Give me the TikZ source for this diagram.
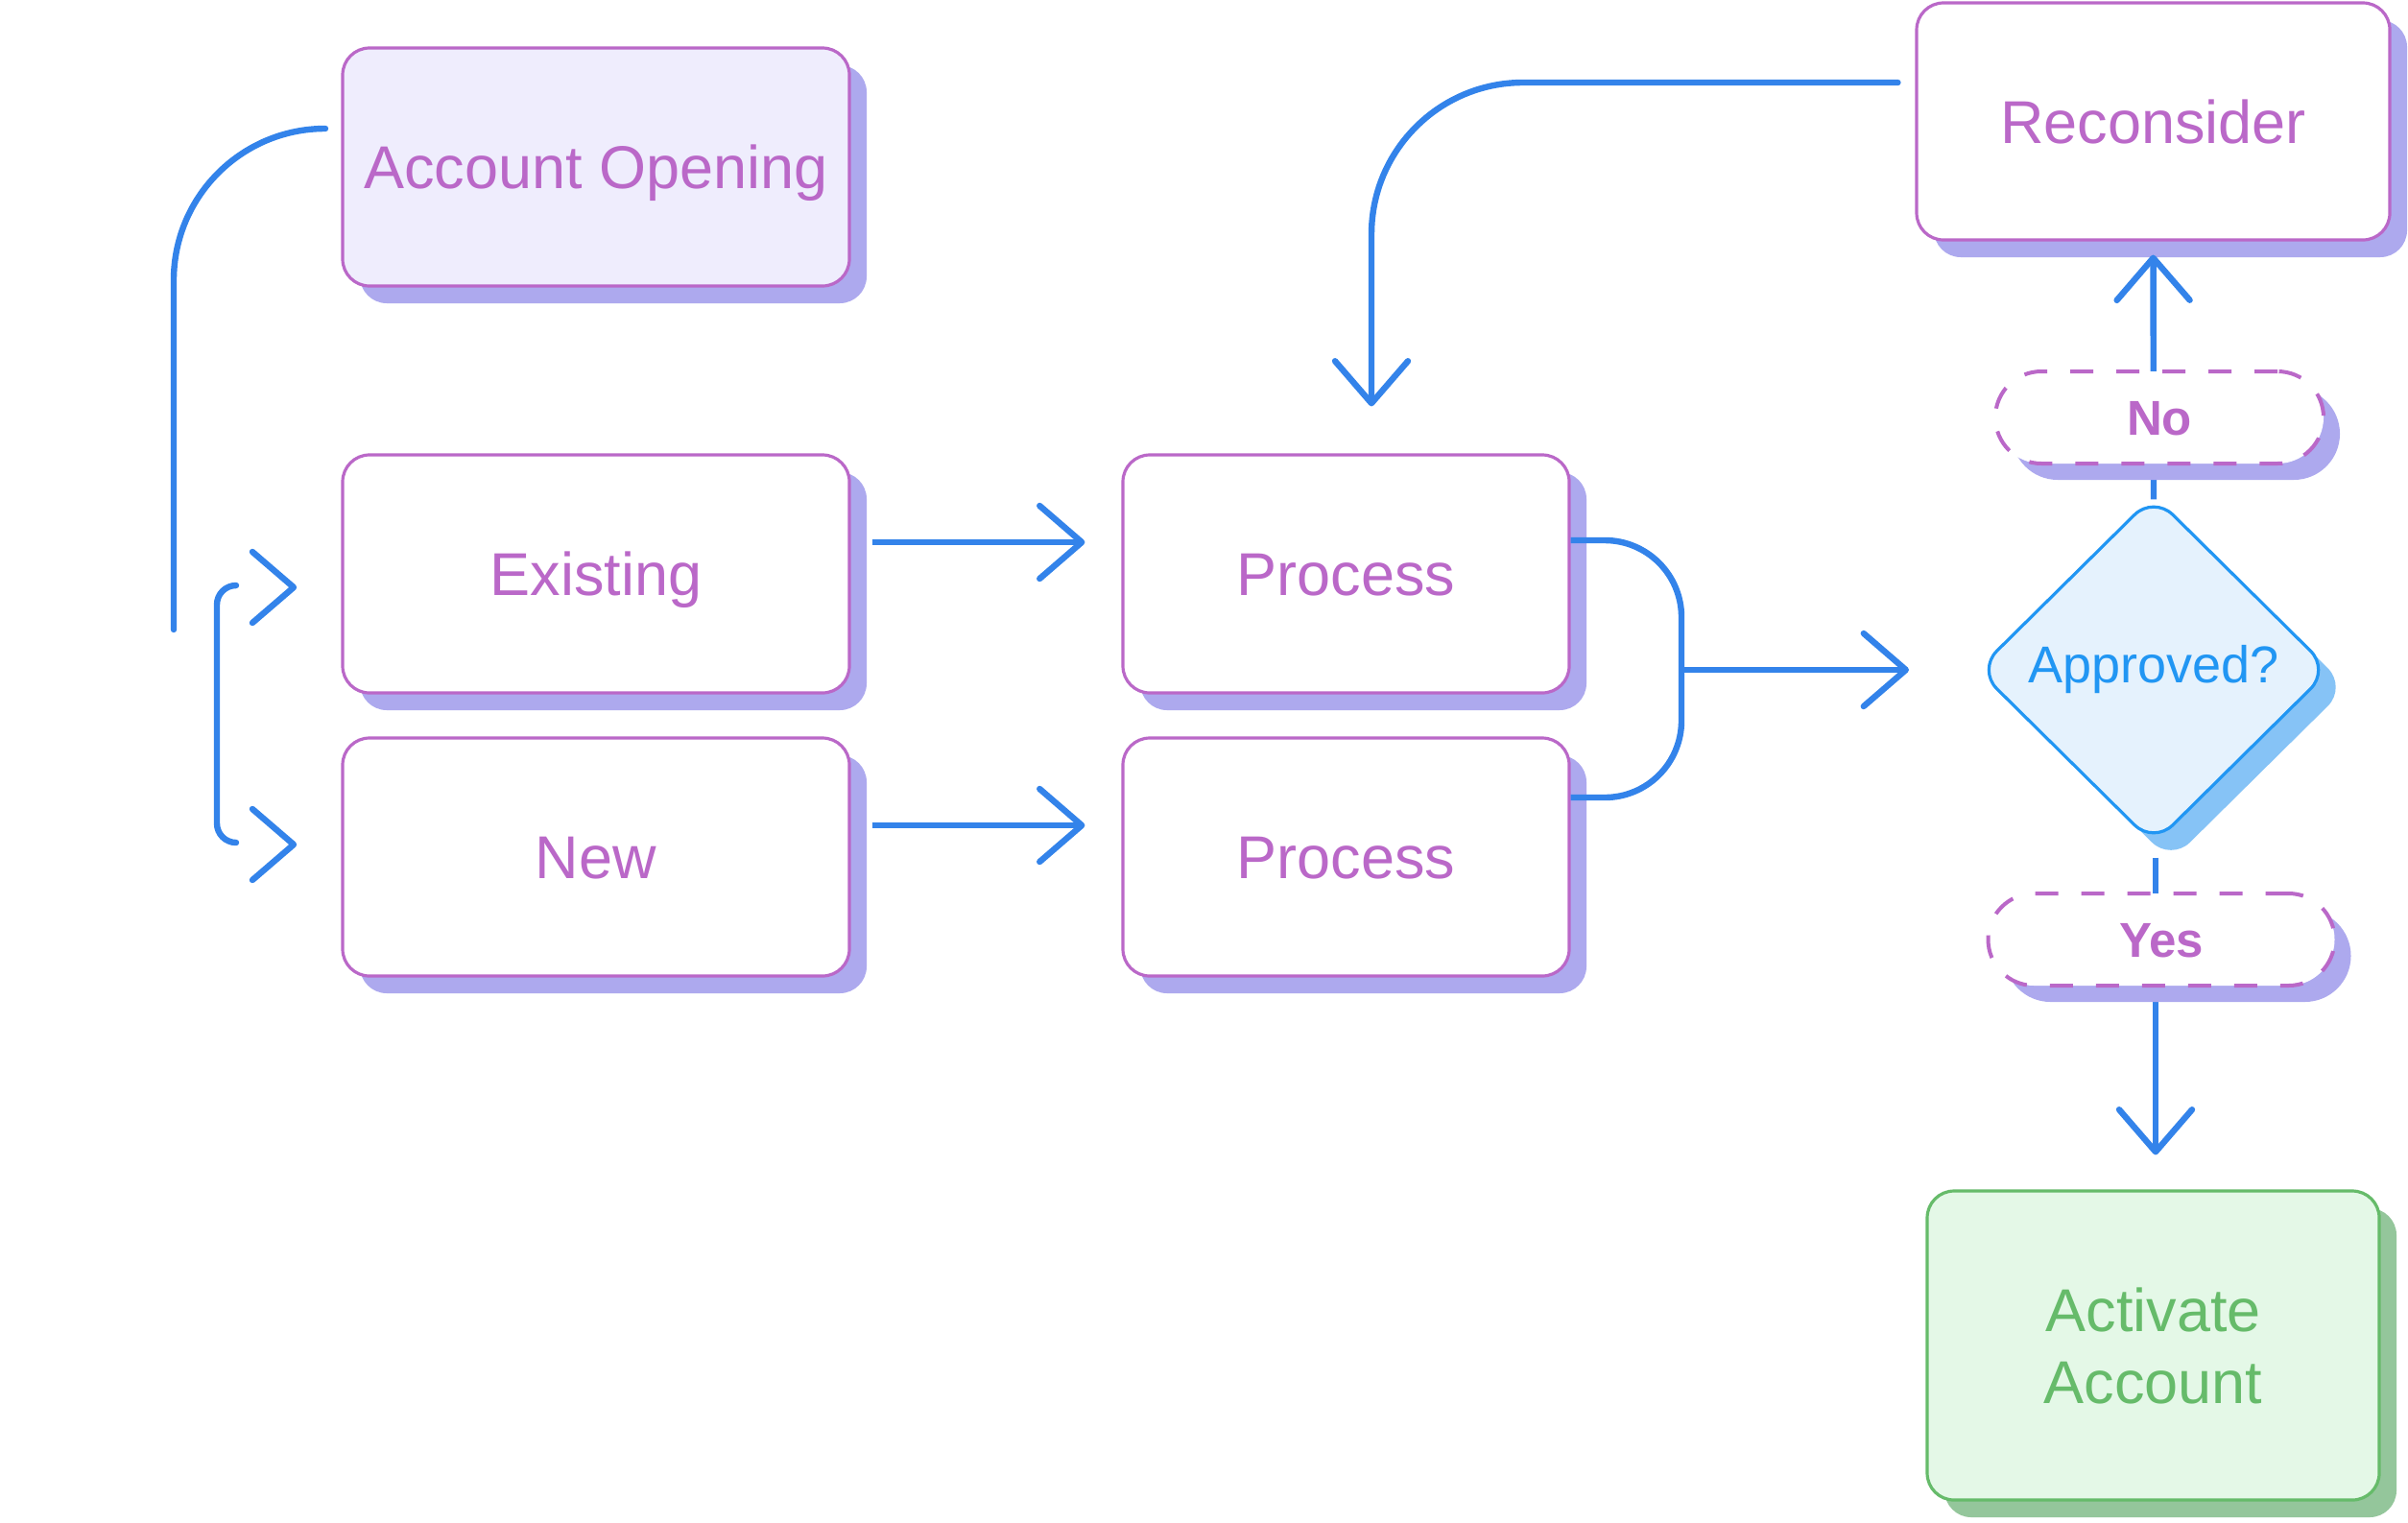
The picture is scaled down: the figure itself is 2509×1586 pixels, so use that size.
\documentclass[tikz,border=0pt]{standalone}
\usepackage{fontspec}
\setmainfont{Liberation Sans}
\usetikzlibrary{arrows.meta,shapes.geometric,shadows,calc}
\definecolor{purp}{HTML}{BA68C8}
\definecolor{lav}{HTML}{ADA9EE}
\definecolor{aofill}{HTML}{EFEDFD}
\definecolor{connblue}{HTML}{3383EA}
\definecolor{diaedge}{HTML}{2196F3}
\definecolor{diafill}{HTML}{E5F2FD}
\definecolor{diashadow}{HTML}{86C3F6}
\definecolor{grn}{HTML}{66BB6A}
\definecolor{grnfill}{HTML}{E4F8E7}
\definecolor{grnshadow}{HTML}{94C69B}
\begin{document}
\begin{tikzpicture}[x=0.5pt,y=-0.5pt,
  card/.style={rectangle, rounded corners=14pt, draw=purp, line width=1.6pt,
    fill=white, text=purp, font=\fontsize{31.5}{38}\selectfont, inner sep=0pt,
    text height=22.6pt, text depth=0pt,
    drop shadow={shadow xshift=9pt, shadow yshift=-9pt, fill=lav, opacity=1}},
  wide/.style={minimum width=264pt, minimum height=124pt},
  proc/.style={minimum width=232.5pt, minimum height=124pt},
  tag/.style={rectangle, rounded corners=24pt, draw=purp, line width=2pt,
    dash pattern=on 12pt off 12pt, fill=white, text=purp,
    font=\bfseries\fontsize{25.5}{30}\selectfont, minimum height=48pt, inner sep=0pt,
    text height=18pt, text depth=0pt,
    drop shadow={shadow xshift=8.5pt, shadow yshift=-8.5pt, fill=lav, opacity=1}},
  decide/.style={diamond, rounded corners=14pt, draw=diaedge, fill=diafill,
    line width=1.6pt, text=diaedge, font=\fontsize{27}{32}\selectfont,
    minimum width=184pt, minimum height=182pt, inner sep=0pt,
    drop shadow={shadow xshift=9pt, shadow yshift=-9pt, fill=diashadow, opacity=1}},
  finalbox/.style={rectangle, rounded corners=14pt, draw=grn, line width=1.6pt,
    fill=grnfill, text=grn, font=\fontsize{31.5}{37.5}\selectfont, inner sep=0pt,
    align=center, minimum width=235.5pt, minimum height=161pt,
    drop shadow={shadow xshift=9pt, shadow yshift=-9pt, fill=grnshadow, opacity=1}},
  link/.style={draw=connblue, line width=3.2pt, line cap=round, line join=round},
  head/.style={-{Straight Barb[length=22pt,width=38pt,round]}},
]
\fill[white] (0,0) rectangle (2509,1586);
\useasboundingbox (0,0) rectangle (2509,1586);

% boxes
\node[card, wide, fill=aofill] (ao) at (621,174) {Account Opening};
\node[card, wide] (ex) at (621,598) {Existing};
\node[card, wide] (nw) at (621,893) {New};
\node[card, proc] (p1) at (1402.5,598) {Process};
\node[card, proc] (p2) at (1402.5,893) {Process};
\node[card, minimum width=246.5pt, minimum height=123.5pt] (rec) at (2243.5,126.5) {Reconsider};
\node[decide] (dia) at (2244,698) {Approved?};
\node[finalbox] (act) at (2243.5,1402) {Activate\\Account};

% left connector from Account Opening
\coordinate (aoS) at ([xshift=-9pt,yshift=20pt]ao.west);
\coordinate (aoE) at (181,656);
\draw[link, rounded corners=79pt] (aoS) -| (aoE);

% bracket
\coordinate (brA) at (245,610);
\coordinate (brB) at (245,878);
\draw[link, line cap=butt, rounded corners=10pt] (brA) -- (226,610) -- (226,878) -- (brB);

% floating chevrons before Existing and New
\coordinate (exTip) at (306,612);
\coordinate (nwTip) at (306,880);
\draw[link] ($(exTip)+(-43,-37)$) -- (exTip) -- ($(exTip)+(-43,37)$);
\draw[link] ($(nwTip)+(-43,-37)$) -- (nwTip) -- ($(nwTip)+(-43,37)$);

% Existing / New -> Process
\draw[link, line cap=butt, head] ([xshift=11pt,yshift=16.5pt]ex.east) -- ([xshift=-19pt,yshift=16.5pt]p1.west);
\draw[link, line cap=butt, head] ([xshift=11pt,yshift=16.5pt]nw.east) -- ([xshift=-19pt,yshift=16.5pt]p2.west);

% merge
\coordinate (m1) at ([yshift=17.5pt]p1.east);
\coordinate (m2) at ([yshift=31pt]p2.east);
\coordinate (mid) at (1752,698);
\coordinate (diaIn) at (1989,698);
\draw[link, line cap=butt, rounded corners=40pt] (m1) -- (m1 -| mid) -- (m2 -| mid) -- (m2);
\draw[link, line cap=butt, head] (mid) -- (diaIn);

% Reconsider -> Process
\coordinate (recS) at ([xshift=-9pt,yshift=20.25pt]rec.west);
\coordinate (p1T) at ([xshift=13.25pt,yshift=24.5pt]p1.north);
\draw[link, rounded corners=79pt, head] (recS) -| (p1T);

% decision connectors
\draw[link, line cap=butt, head] ([yshift=-3pt]dia.north) -- ([yshift=-7pt]rec.south);
\draw[link, line cap=butt, head] ([xshift=1pt,yshift=-6pt]dia.south) -- ([xshift=1.25pt,yshift=18pt]act.north);

% labels on top
\node[tag, minimum width=171pt] (no) at (2250,435) {No};
\node[tag, minimum width=180.5pt] (yes) at (2252,979) {Yes};
\end{tikzpicture}
\end{document}
